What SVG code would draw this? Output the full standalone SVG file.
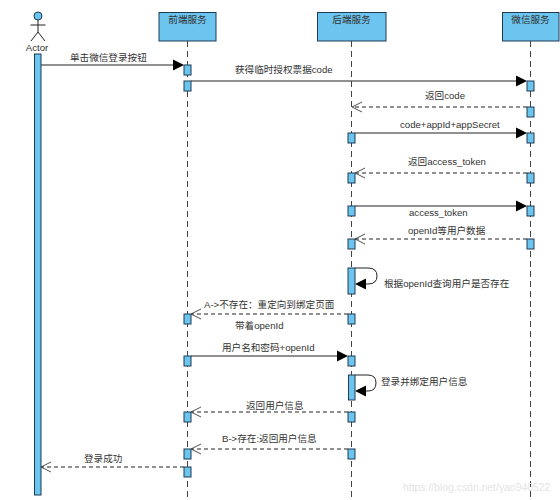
<svg xmlns="http://www.w3.org/2000/svg" width="560" height="500" viewBox="0 0 560 500">
<style>
text{font-family:"Liberation Sans","Noto Sans CJK SC",sans-serif;font-size:9.6px;fill:#333}
.m{text-anchor:middle}
.box{fill:#6cc5ee;stroke:#1f3b55;stroke-width:1}
.head{fill:#6cc5ee;stroke:#1f3b55;stroke-width:1}
.life{stroke:#444;stroke-width:1;stroke-dasharray:6 4;fill:none}
.sync{stroke:#222;stroke-width:1;fill:none}
.ret{stroke:#222;stroke-width:1;stroke-dasharray:4 3;fill:none}
.open{stroke:#222;stroke-width:.8;fill:none}
.solid{fill:#000;stroke:none}
.wm{font-size:10.400px;fill:#e4e4e4}
</style>
<defs>
<path id="tipR" class="solid" d="M0 0L-11-5.500V5.500Z"/>
<path id="tipL" class="solid" d="M0 0L11-5.500V5.500Z"/>
<path id="opL" class="open" d="M10-5L0 0L10 5"/>
</defs>
<g id="connectors">
<path class="life" d="M187.500 41V500"/>
<path class="life" d="M351.500 41V500"/>
<path class="life" d="M530.500 41V500"/>
<path class="sync" d="M41 65H174"/><use href="#tipR" x="184" y="65"/>
<path class="sync" d="M191 81H517"/><use href="#tipR" x="527" y="81"/>
<path class="ret" d="M527 107H353"/><use href="#opL" x="352" y="107"/>
<path class="sync" d="M355 133H517"/><use href="#tipR" x="527" y="133"/>
<path class="ret" d="M527 173H356"/><use href="#opL" x="355" y="173"/>
<path class="sync" d="M355 206H517"/><use href="#tipR" x="527" y="206"/>
<path class="ret" d="M527 239H356"/><use href="#opL" x="355" y="239"/>
<path class="sync" d="M355 268H368Q377 268 377 276Q377 284 368 284H364"/><use href="#tipL" x="355" y="284"/>
<path class="ret" d="M348 314H192"/><use href="#opL" x="191" y="314"/>
<path class="sync" d="M191 356H338"/><use href="#tipR" x="348" y="356"/>
<path class="sync" d="M355 375H368Q376 375 376 383Q376 391 368 391H364"/><use href="#tipL" x="355" y="391"/>
<path class="ret" d="M348 412H192"/><use href="#opL" x="191" y="412"/>
<path class="ret" d="M348 449H192"/><use href="#opL" x="191" y="449"/>
<path class="ret" d="M184 467H42"/><use href="#opL" x="41" y="467"/>
</g>
<g id="actor">
<circle class="head" cx="38" cy="16" r="4"/>
<path class="sync" d="M38 20V32M30.500 25H45.500M38 32L31 41M38 32L45 41"/>
<text class="m" x="37" y="51">Actor</text>
<rect class="box" x="34.500" y="54" width="6.500" height="441"/>
</g>
<g id="frontend">
<rect class="head" x="159" y="12.500" width="57" height="28.500"/>
<text class="m" x="187.500" y="23">前端服务</text>
<rect class="box" x="184" y="65" width="7" height="10"/>
<rect class="box" x="184" y="81" width="7" height="10"/>
<rect class="box" x="184" y="314" width="7" height="10"/>
<rect class="box" x="184" y="356" width="7" height="10"/>
<rect class="box" x="184" y="412" width="7" height="10"/>
<rect class="box" x="184" y="449" width="7" height="10"/>
<rect class="box" x="184" y="467" width="7" height="10"/>
</g>
<g id="backend">
<rect class="head" x="317.500" y="12.500" width="68.500" height="28.500"/>
<text class="m" x="351.500" y="23">后端服务</text>
<rect class="box" x="348" y="133" width="7" height="10"/>
<rect class="box" x="348" y="173" width="7" height="10"/>
<rect class="box" x="348" y="206" width="7" height="10"/>
<rect class="box" x="348" y="239" width="7" height="10"/>
<rect class="box" x="348" y="268" width="7" height="26"/>
<rect class="box" x="348" y="314" width="7" height="10"/>
<rect class="box" x="348" y="356" width="7" height="10"/>
<rect class="box" x="348.500" y="375" width="6.500" height="25"/>
<rect class="box" x="348" y="412" width="7" height="10"/>
<rect class="box" x="348" y="449" width="7" height="10"/>
</g>
<g id="wechat">
<rect class="head" x="502.500" y="12.500" width="56.500" height="28.500"/>
<text class="m" x="530.500" y="23">微信服务</text>
<rect class="box" x="527" y="81" width="7" height="10"/>
<rect class="box" x="527" y="107" width="7" height="10"/>
<rect class="box" x="527" y="133" width="7" height="10"/>
<rect class="box" x="527" y="173" width="7" height="10"/>
<rect class="box" x="527" y="206" width="7" height="10"/>
<rect class="box" x="527" y="239" width="7" height="10"/>
</g>
<g id="labels">
<text x="70" y="61">单击微信登录按钮</text>
<text x="235" y="73">获得临时授权票据code</text>
<text x="425" y="99">返回code</text>
<text x="400" y="128">code+appId+appSecret</text>
<text x="408" y="165">返回access_token</text>
<text x="409" y="216">access_token</text>
<text x="408" y="234">openId等用户数据</text>
<text x="384" y="287">根据openId查询用户是否存在</text>
<text x="204" y="308">A-&gt;不存在：重定向到绑定页面</text>
<text x="235" y="329">带着openId</text>
<text x="222" y="351">用户名和密码+openId</text>
<text x="381" y="385">登录并绑定用户信息</text>
<text x="246" y="409">返回用户信息</text>
<text x="222" y="442">B-&gt;存在:返回用户信息</text>
<text x="84" y="462">登录成功</text>
<text class="wm" x="403" y="491">https://blog.csdn.net/yao940522</text>
</g>
</svg>
